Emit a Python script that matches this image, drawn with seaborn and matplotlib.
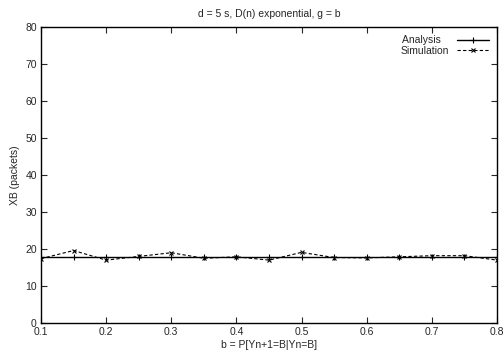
import matplotlib
matplotlib.use("Agg")
import matplotlib.pyplot as plt
import seaborn as sns
import pandas as pd

b_values = [0.1, 0.15, 0.2, 0.25, 0.3, 0.35, 0.4, 0.45, 0.5, 0.55, 0.6, 0.65, 0.7, 0.75, 0.8]
analysis = [17.8, 17.8, 17.8, 17.8, 17.8, 17.8, 17.8, 17.8, 17.8, 17.8, 17.8, 17.8, 17.8, 17.8, 17.8]
simulation = [17.4, 19.6, 17.0, 18.0, 19.0, 17.5, 17.9, 17.0, 19.1, 17.7, 17.6, 17.9, 18.2, 18.2, 17.0]
x_ticks = [0.1, 0.2, 0.3, 0.4, 0.5, 0.6, 0.7, 0.8]
y_ticks = [0, 10, 20, 30, 40, 50, 60, 70, 80]

sns.set_style("ticks")
plt.rcParams['font.family'] = ['Liberation Sans', 'DejaVu Sans']

df = pd.DataFrame({"b": b_values, "Analysis": analysis, "Simulation": simulation})

fig = plt.figure(figsize=(5.03, 3.55), dpi=100)
ax = fig.add_axes([0.0815, 0.090, 0.9065, 0.834])

sns.lineplot(data=df, x="b", y="Analysis", ax=ax, color="black", linewidth=1.0,
             marker="+", markersize=4.5, markeredgewidth=0.8, markeredgecolor="black",
             label="Analysis")
sns.lineplot(data=df, x="b", y="Simulation", ax=ax, color="black", linewidth=0.8,
             linestyle=(0, (3, 2)), marker="x", markersize=3.5, markeredgewidth=0.8,
             markeredgecolor="black", label="Simulation")

ax.set_xlim(0.1, 0.8)
ax.set_ylim(0, 80)
ax.set_xticks(x_ticks)
ax.set_xticklabels([f"{v:g}" for v in x_ticks])
ax.set_yticks(y_ticks)
ax.tick_params(direction="in", length=4, width=0.8, labelsize=7.5, top=True, right=True, pad=3)
for s in ax.spines.values():
    s.set_linewidth(1.0)
    s.set_color("black")
ax.set_xlabel("b = P[Yn+1=B|Yn=B]", fontsize=7.5, labelpad=2)
ax.set_ylabel("XB (packets)", fontsize=7.5, labelpad=4)
ax.set_title("d = 5 s, D(n) exponential, g = b", fontsize=7.5, pad=7)

handles, labels = ax.get_legend_handles_labels()
leg = ax.legend(handles, ["Analysis   ", "Simulation"], loc="upper right", frameon=False,
                markerfirst=False, fontsize=7.5, handlelength=3, borderaxespad=0.4,
                labelspacing=0.05, handletextpad=0.8)

fig.savefig("out.png", dpi=100)
